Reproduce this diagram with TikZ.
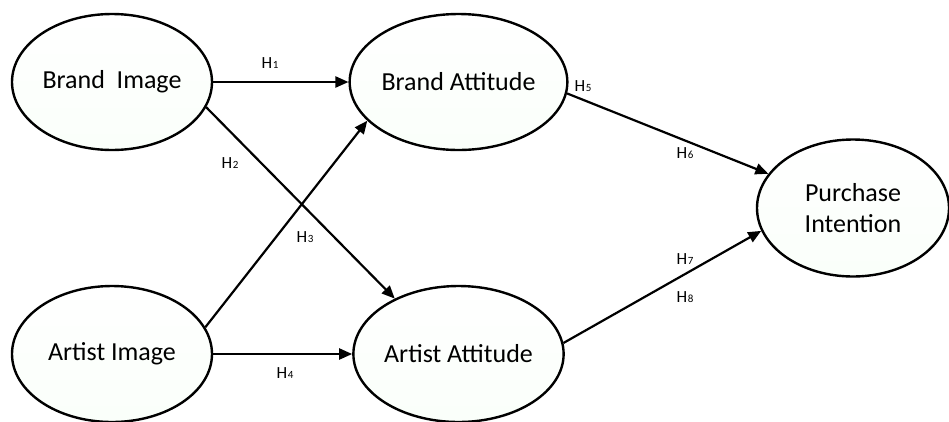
\documentclass[tikz,border=0pt]{standalone}
\usepackage{fontspec}
\setmainfont{Carlito}
\usetikzlibrary{shapes.geometric,arrows.meta}
\newcommand\Hyp[1]{H\kern0.5pt{\fontsize{11}{11}\selectfont #1}}
\begin{document}
\begin{tikzpicture}[x=1pt,y=-1pt,
  construct/.style={ellipse, draw, line width=2.4pt, minimum width=200pt, minimum height=136pt,
    inner sep=0pt, top color=white, bottom color=black!6!green!2!white,
    font=\fontsize{26}{31}\selectfont, align=center},
  hyparrow/.style={line width=2.2pt, -{Triangle[length=13pt,width=11pt]}},
  hyp/.style={font=\fontsize{17}{18}\selectfont, inner sep=0pt}]
\useasboundingbox (0,0) rectangle (949,421);
\node[construct] (bi) at (112,82) {Brand\ \ Image};
\node[construct, minimum width=201pt] (ba) at (458.5,82) {Brand Attitude};
\node[construct] (ai) at (112,354) {Artist Image};
\node[construct, minimum width=201pt] (aa) at (458.5,354) {Artist Attitude};
\node[construct, minimum width=192pt, minimum height=137pt] (pi) at (853,208) {Purchase\\Intention};

\draw[hyparrow] (bi.east) -- (ba.west);
\draw[hyparrow] (bi.-15) -- (aa.139);
\draw[hyparrow] (ai.16) -- (ba.-157);
\draw[hyparrow] (ai.east) -- (aa.west);
\draw[hyparrow] (ba.-6) -- (pi.158);
\draw[hyparrow] (aa.6) -- (pi.194);

\node[hyp] (h1) at (270,63) {\Hyp{1}};
\node[hyp] (h2) at (230,163) {\Hyp{2}};
\node[hyp] (h3) at (305,237) {\Hyp{3}};
\node[hyp] (h4) at (285,373) {\Hyp{4}};
\node[hyp] (h5) at (583,86) {\Hyp{5}};
\node[hyp] (h6) at (685,153) {\Hyp{6}};
\node[hyp] (h7) at (685,259) {\Hyp{7}};
\node[hyp] (h8) at (685,297) {\Hyp{8}};
\end{tikzpicture}
\end{document}
